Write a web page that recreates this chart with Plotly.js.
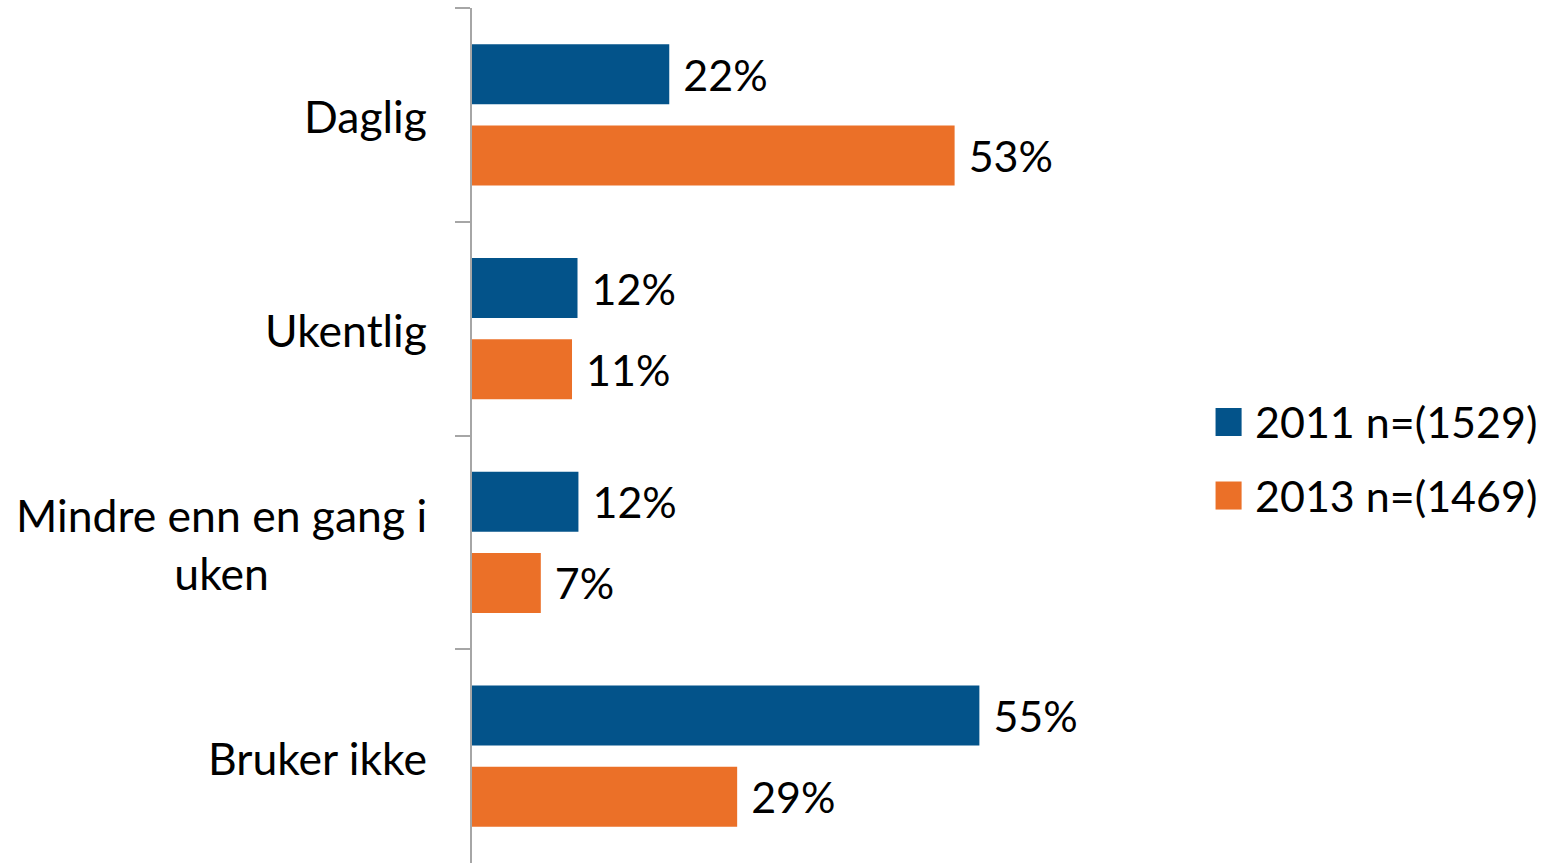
<!DOCTYPE html>
<html>
<head>
<meta charset="utf-8">
<script src="https://cdn.plot.ly/plotly-3.0.1.min.js"></script>
<style>html,body{margin:0;padding:0;background:#fff;}#chart{width:1544px;height:863px;}</style>
</head>
<body>
<div id="chart"></div>
<script>
// Categories (top to bottom)
const categories = ["Daglig", "Ukentlig", "Mindre enn en gang i uken", "Bruker ikke"];
const categoryLabels = ["Daglig", "Ukentlig", "Mindre enn en gang i<br>uken", "Bruker ikke"];

// Series values (percent)
const values2011 = [21.5, 11.5, 11.6, 55.3];
const values2013 = [52.6, 10.9, 7.5, 28.9];

// Displayed data labels
const labels2011 = ["22%", "12%", "12%", "55%"];
const labels2013 = ["53%", "11%", "7%", "29%"];

// Series names
const seriesNames = ["2011 n=(1529)", "2013 n=(1469)"];
const seriesColors = ["#03538A", "#EB7028"];

const FONT = "Lato, 'Open Sans', sans-serif";
const FS = 43;
const FS_CAT = 44.5;

const traces = [
  {type: "bar", orientation: "h", name: seriesNames[0], y: categories, x: values2011,
   text: labels2011, texttemplate: "\u00a0%{text}", textposition: "outside", constraintext: "none",
   cliponaxis: false, textfont: {family: FONT, size: FS, color: "#000"},
   marker: {color: seriesColors[0]}, hoverinfo: "skip", showlegend: false},
  {type: "bar", orientation: "h", name: seriesNames[1], y: categories, x: values2013,
   text: labels2013, texttemplate: "\u00a0%{text}", textposition: "outside", constraintext: "none",
   cliponaxis: false, textfont: {family: FONT, size: FS, color: "#000"},
   marker: {color: seriesColors[1]}, hoverinfo: "skip", showlegend: false}
];

const annotations = categories.map((c, i) => ({
  xref: "paper", yref: "y", x: 0, y: c, xanchor: "right", yanchor: "middle",
  xshift: -43, yshift: -1, align: "center", showarrow: false, text: categoryLabels[i],
  font: {family: FONT, size: FS_CAT, color: "#000"}
}));

// Custom legend (large square swatches)
const legendY = [0.5158, 0.4298];
const shapes = [];
seriesNames.forEach((n, i) => {
  shapes.push({type: "rect", xref: "paper", yref: "paper",
    x0: 1.0130, x1: 1.0485, y0: legendY[i] - 0.0164, y1: legendY[i] + 0.0164,
    fillcolor: seriesColors[i], line: {width: 0}});
  annotations.push({xref: "paper", yref: "paper", x: 1.0640, y: legendY[i],
    xanchor: "left", yanchor: "middle", showarrow: false, text: n,
    font: {family: FONT, size: FS, color: "#000"}});
});

const layout = {
  width: 1544, height: 863,
  margin: {l: 472, r: 338, t: 8, b: 0},
  paper_bgcolor: "#fff", plot_bgcolor: "#fff",
  barmode: "group", bargap: 0.24, bargroupgap: 0.26,
  showlegend: false,
  font: {family: FONT, size: FS, color: "#000"},
  xaxis: {range: [0, 80], visible: false, showgrid: false, zeroline: false, fixedrange: true},
  yaxis: {type: "category", autorange: "reversed", showticklabels: false,
    showline: true, linecolor: "#A6A6A6", linewidth: 2,
    ticks: "outside", tickson: "boundaries", ticklen: 15, tickcolor: "#A6A6A6", tickwidth: 2,
    showgrid: false, zeroline: false, fixedrange: true},
  annotations: annotations,
  shapes: shapes
};

Plotly.newPlot("chart", traces, layout, {displayModeBar: false, staticPlot: true});
</script>
</body>
</html>
